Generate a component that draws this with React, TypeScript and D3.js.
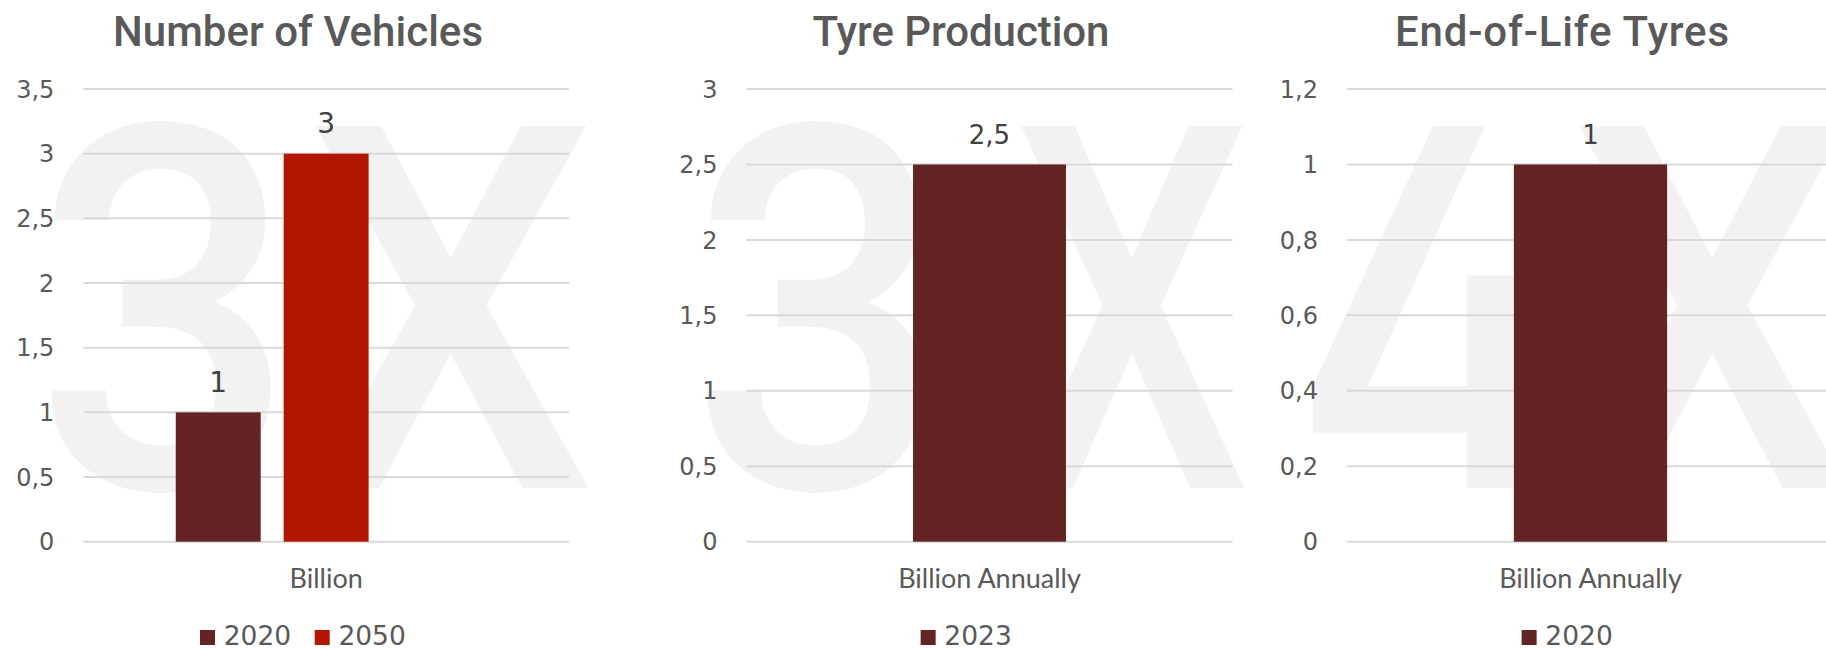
import * as d3 from "d3";

const W = 1826;
const H = 649;

// Number of Vehicles (the source sheet keeps an empty third slot next to 2050)
const vehicleCategories = ["Billion"];
const vehicleSeries = ["2020", "2050", ""];
const vehicleValues: (number | null)[] = [1, 3, null];
const vehicleTicks = [0, 0.5, 1, 1.5, 2, 2.5, 3, 3.5];

// Tyre Production
const tyreCategories = ["Billion Annually"];
const tyreSeries = ["2023"];
const tyreValues: (number | null)[] = [2.5];
const tyreTicks = [0, 0.5, 1, 1.5, 2, 2.5, 3];

// End-of-Life Tyres
const eltCategories = ["Billion Annually"];
const eltSeries = ["2020"];
const eltValues: (number | null)[] = [1];
const eltTicks = [0, 0.2, 0.4, 0.6, 0.8, 1, 1.2];

const DARK = "#632423";
const RED = "#b31500";
const GRID = "#d9d9d9";
const TXT = "#595959";
const LBL = "#404040";
const WM = "#f2f2f2";
const wordFont = "Lato, 'Noto Sans', sans-serif";
const digitFont = "'DejaVu Sans', 'Noto Sans', sans-serif";
const titleFont = "Roboto, 'Noto Sans', sans-serif";

const fmt = d3
  .formatLocale({ decimal: ",", thousands: ".", grouping: [3], currency: ["", ""] })
  .format("~g");

// ink width of a Roboto glyph, as a share of the font size
const inkRatio: Record<string, number> = { "3": 0.46, X: 0.59 };

// open "4" outline, in a unit box (0..1 across, 0..1 down)
const fourShape: [number, number][] = [
  [0.513, 0], [0.735, 0], [0.234, 0.719], [0.658, 0.719], [0.658, 0.412],
  [0.858, 0.412], [0.858, 0.719], [1, 0.719], [1, 0.847], [0.858, 0.847],
  [0.858, 1], [0.658, 1], [0.658, 0.847], [0, 0.847], [0, 0.719],
];

type Glyph = { ch: string; x0: number; x1: number };

type Panel = {
  title: string;
  titleX: number;
  titleLen: number;
  left: number;
  right: number;
  categories: string[];
  series: string[];
  values: (number | null)[];
  colors: string[];
  ticks: number[];
  groupPad: number;
  barPad: number;
  labelSize: number;
  legendX: number;
  watermark: Glyph[];
};

const panels: Panel[] = [
  {
    title: "Number of Vehicles",
    titleX: 298,
    titleLen: 370,
    left: 83.3,
    right: 569,
    categories: vehicleCategories,
    series: vehicleSeries,
    values: vehicleValues,
    colors: [DARK, RED, RED],
    ticks: vehicleTicks,
    groupPad: 0.25,
    barPad: 0.213,
    labelSize: 28,
    legendX: 302.7,
    watermark: [
      { ch: "3", x0: 59, x1: 271 },
      { ch: "X", x0: 314, x1: 587 },
    ],
  },
  {
    title: "Tyre Production",
    titleX: 961,
    titleLen: 297,
    left: 746.5,
    right: 1232.5,
    categories: tyreCategories,
    series: tyreSeries,
    values: tyreValues,
    colors: [DARK],
    ticks: tyreTicks,
    groupPad: 0.25,
    barPad: 0.528,
    labelSize: 26,
    legendX: 966,
    watermark: [
      { ch: "3", x0: 715, x1: 924.5 },
      { ch: "X", x0: 1020, x1: 1243 },
    ],
  },
  {
    title: "End-of-Life Tyres",
    titleX: 1562,
    titleLen: 334,
    left: 1347,
    right: 1834,
    categories: eltCategories,
    series: eltSeries,
    values: eltValues,
    colors: [DARK],
    ticks: eltTicks,
    groupPad: 0.25,
    barPad: 0.528,
    labelSize: 26,
    legendX: 1567,
    watermark: [
      { ch: "4", x0: 1313, x1: 1547 },
      { ch: "X", x0: 1578, x1: 1846 },
    ],
  },
];

const plotTop = 89;
const plotBottom = 541.7;
const wmTop = 126;
const wmBottom = 488;

function Watermark({ g }: { g: Glyph }) {
  const h = wmBottom - wmTop;
  if (g.ch === "4") {
    const sx = d3.scaleLinear().range([g.x0, g.x1]);
    const sy = d3.scaleLinear().range([wmTop, wmBottom]);
    const path = d3.line<[number, number]>()
      .x((d) => sx(d[0]))
      .y((d) => sy(d[1]))
      .curve(d3.curveLinearClosed)(fourShape);
    return <path d={path ?? ""} fill={WM} />;
  }
  const fs = h / 0.711;
  const cx = (g.x0 + g.x1) / 2;
  const k = (g.x1 - g.x0) / (fs * inkRatio[g.ch]);
  return (
    <text
      transform={`translate(${cx},${wmBottom}) scale(${k},1)`}
      textAnchor="middle"
      fontFamily={titleFont}
      fontWeight={500}
      fontSize={fs}
      fill={WM}
    >
      {g.ch}
    </text>
  );
}

function ChartPanel({ p }: { p: Panel }) {
  const y = d3
    .scaleLinear()
    .domain([0, p.ticks[p.ticks.length - 1]])
    .range([plotBottom, plotTop]);
  const x0 = d3
    .scaleBand<string>()
    .domain(p.categories)
    .range([p.left, p.right])
    .paddingInner(0)
    .paddingOuter(p.groupPad);
  const x1 = d3
    .scaleBand<string>()
    .domain(p.series.map((s, i) => s + "#" + i))
    .range([0, x0.bandwidth()])
    .paddingInner(p.barPad)
    .paddingOuter(p.barPad / 2);

  const legendItems = p.series.filter((s) => s !== "");
  const itemW = 15 + 8.7 + 67;
  const legendW = legendItems.length * itemW + (legendItems.length - 1) * 24;
  const legendStart = p.legendX - legendW / 2;

  return (
    <g>
      {p.watermark.map((g) => (
        <Watermark key={g.ch} g={g} />
      ))}

      <text
        x={p.titleX}
        y={46.4}
        textAnchor="middle"
        fontFamily={titleFont}
        fontWeight={500}
        fontSize={42}
        fill={TXT}
        textLength={p.titleLen}
      >
        {p.title}
      </text>

      {p.ticks.map((t) => (
        <g key={t}>
          <line
            x1={p.left}
            x2={p.right}
            y1={y(t)}
            y2={y(t)}
            stroke={GRID}
            strokeWidth={2}
          />
          <text
            x={p.left - 29}
            y={y(t)}
            dy="0.36em"
            textAnchor="end"
            fontFamily={digitFont}
            fontSize={24}
            fill={TXT}
          >
            {fmt(t)}
          </text>
        </g>
      ))}

      {p.categories.map((c) => (
        <g key={c}>
          {p.series.map((s, i) => {
            const v = p.values[i];
            if (v == null) return null;
            const bx = x0(c)! + x1(s + "#" + i)!;
            return (
              <g key={s + i}>
                <rect
                  x={bx}
                  y={y(v)}
                  width={x1.bandwidth()}
                  height={y(0) - y(v)}
                  fill={p.colors[i]}
                />
                <text
                  x={bx + x1.bandwidth() / 2}
                  y={y(v) - 20.5}
                  textAnchor="middle"
                  fontFamily={digitFont}
                  fontSize={p.labelSize}
                  fill={LBL}
                >
                  {fmt(v)}
                </text>
              </g>
            );
          })}
          <text
            x={x0(c)! + x0.bandwidth() / 2}
            y={588.3}
            textAnchor="middle"
            fontFamily={wordFont}
            fontSize={27}
            fill={TXT}
          >
            {c}
          </text>
        </g>
      ))}

      {legendItems.map((s, i) => {
        const lx = legendStart + i * (itemW + 24);
        return (
          <g key={s}>
            <rect x={lx} y={630} width={15} height={15} fill={p.colors[i]} />
            <text
              x={lx + 15 + 8.7}
              y={645}
              fontFamily={digitFont}
              fontSize={26.5}
              fill={TXT}
            >
              {s}
            </text>
          </g>
        );
      })}
    </g>
  );
}

export default function App() {
  return (
    <svg
      width={W}
      height={H}
      viewBox={`0 0 ${W} ${H}`}
      style={{ position: "absolute", left: 0, top: 0, background: "#fff" }}
    >
      <rect width={W} height={H} fill="#fff" />
      {panels.map((p) => (
        <ChartPanel key={p.title} p={p} />
      ))}
    </svg>
  );
}
